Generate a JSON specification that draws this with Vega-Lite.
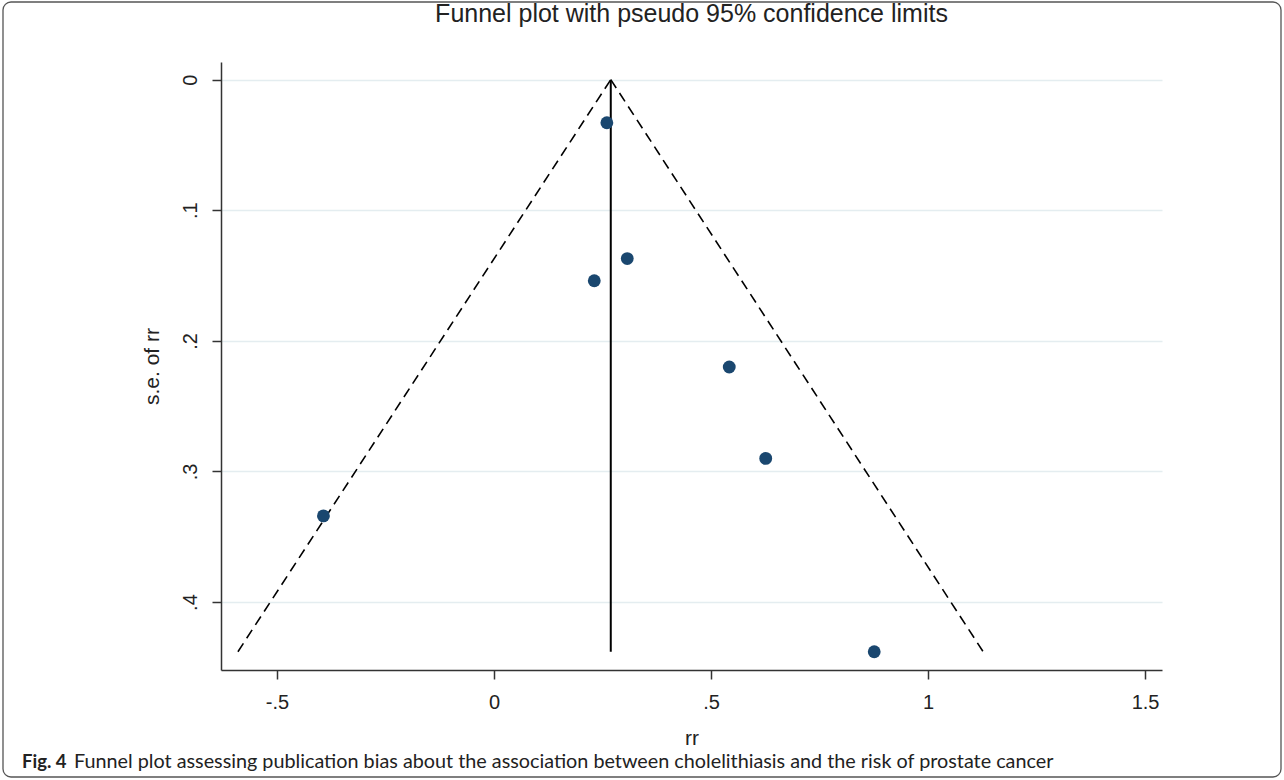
{
  "$schema": "https://vega.github.io/schema/vega-lite/v6.json",
  "width": 941,
  "height": 608,
  "autosize": {"type": "none"},
  "padding": {"left": 221, "top": 62, "right": 122, "bottom": 110},
  "background": "white",
  "config": {
    "view": {"stroke": null},
    "axis": {
      "labelFont": "Liberation Sans",
      "titleFont": "Liberation Sans",
      "labelFontSize": 20,
      "titleFontSize": 21,
      "titleFontWeight": "normal",
      "labelColor": "#222222",
      "titleColor": "#222222",
      "domainColor": "#333333",
      "domainWidth": 1.5,
      "tickColor": "#333333",
      "tickWidth": 1.5,
      "tickSize": 9
    }
  },
  "encoding": {
    "x": {
      "field": "rr",
      "type": "quantitative",
      "scale": {"domain": [-0.629, 1.539], "nice": false, "zero": false},
      "axis": {
        "title": "rr",
        "values": [-0.5, 0, 0.5, 1, 1.5],
        "labelExpr": "replace(replace(format(datum.value, '.1~f'), '0.', '.'), '\u2212', '-')",
        "grid": false,
        "labelPadding": 13,
        "titlePadding": 15
      }
    },
    "y": {
      "field": "se",
      "type": "quantitative",
      "scale": {"domain": [-0.0135, 0.452], "nice": false, "zero": false, "reverse": true},
      "axis": {
        "title": "s.e. of rr",
        "values": [0, 0.1, 0.2, 0.3, 0.4],
        "labelExpr": "datum.value == 0 ? '0' : replace(format(datum.value, '.1f'), '0.', '.')",
        "labelAngle": -90,
        "labelPadding": 12,
        "titlePadding": 18,
        "grid": true,
        "gridColor": "#e4edf0",
        "gridWidth": 1.5
      }
    }
  },
  "layer": [
    {
      "data": {"values": [{"frame": "border"}]},
      "mark": {"type": "rect", "fill": null, "stroke": "#555555", "strokeWidth": 1.3, "cornerRadius": 8},
      "encoding": {
        "x": {"value": -218},
        "x2": {"value": 1060},
        "y": {"value": -60},
        "y2": {"value": 715}
      }
    },
    {
      "data": {"values": [{"label": "Funnel plot with pseudo 95% confidence limits"}]},
      "mark": {"type": "text", "font": "Liberation Sans", "fontSize": 25, "align": "center", "baseline": "middle", "color": "#222222"},
      "encoding": {
        "text": {"field": "label"},
        "x": {"value": 470.5},
        "y": {"value": -48}
      }
    },
    {
      "data": {
        "values": [
          {"side": "lower", "rr": 0.269, "se": 0},
          {"side": "lower", "rr": -0.590, "se": 0.438},
          {"side": "upper", "rr": 0.269, "se": 0},
          {"side": "upper", "rr": 1.127, "se": 0.438}
        ]
      },
      "mark": {"type": "line", "color": "black", "strokeWidth": 1.6, "strokeDash": [10, 6]},
      "encoding": {"detail": {"field": "side"}}
    },
    {
      "data": {"values": [{"rr": 0.269, "se": 0, "se_end": 0.438}]},
      "mark": {"type": "rule", "color": "black", "strokeWidth": 2},
      "encoding": {"y2": {"field": "se_end"}}
    },
    {
      "data": {
        "values": [
          {"rr": 0.260, "se": 0.033},
          {"rr": 0.307, "se": 0.137},
          {"rr": 0.231, "se": 0.154},
          {"rr": 0.542, "se": 0.220},
          {"rr": 0.626, "se": 0.290},
          {"rr": -0.393, "se": 0.334},
          {"rr": 0.876, "se": 0.438}
        ]
      },
      "mark": {"type": "circle", "color": "#1a476f", "size": 165, "opacity": 1}
    },
    {
      "data": {"values": [{"label": "Fig. 4"}]},
      "mark": {"type": "text", "font": "Lato", "fontWeight": "bold", "fontSize": 18.5, "align": "left", "baseline": "alphabetic", "color": "#222222"},
      "encoding": {
        "text": {"field": "label"},
        "x": {"value": -199},
        "y": {"value": 706}
      }
    },
    {
      "data": {"values": [{"label": "Funnel plot assessing publication bias about the association between cholelithiasis and the risk of prostate cancer"}]},
      "mark": {"type": "text", "font": "Lato", "fontWeight": "normal", "fontSize": 19.8, "align": "left", "baseline": "alphabetic", "color": "#222222"},
      "encoding": {
        "text": {"field": "label"},
        "x": {"value": -147},
        "y": {"value": 706}
      }
    }
  ]
}
